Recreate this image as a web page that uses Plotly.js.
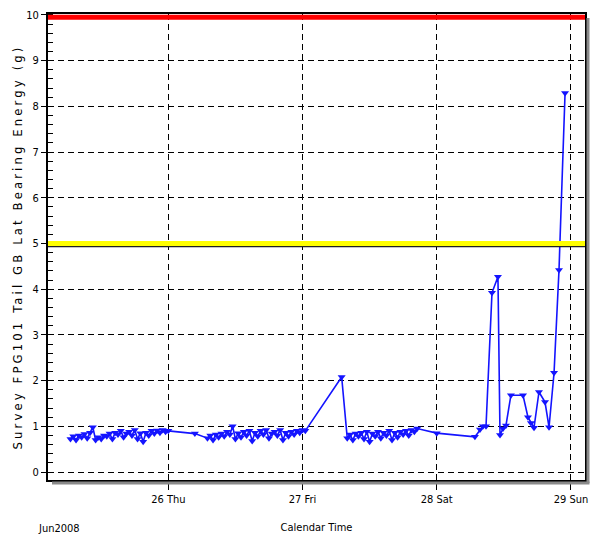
<!DOCTYPE html>
<html>
<head>
<meta charset="utf-8">
<script src="https://cdn.plot.ly/plotly-3.0.1.min.js"></script>
<style>
html,body{margin:0;padding:0;background:#fff;}
#chart{width:590px;height:538px;}
#chart .ytitle{letter-spacing:3.1px;}
</style>
</head>
<body>
<div id="chart"></div>
<script>
// ---- data ----
var times = [
 "2008-06-25 06:30","2008-06-25 07:00","2008-06-25 07:30","2008-06-25 08:00","2008-06-25 08:30","2008-06-25 09:00",
 "2008-06-25 09:30","2008-06-25 10:00","2008-06-25 10:30","2008-06-25 11:00","2008-06-25 11:30","2008-06-25 12:00",
 "2008-06-25 12:30","2008-06-25 13:00","2008-06-25 13:30","2008-06-25 14:00","2008-06-25 14:30","2008-06-25 15:00",
 "2008-06-25 15:30","2008-06-25 16:00","2008-06-25 16:30","2008-06-25 17:00","2008-06-25 17:30","2008-06-25 18:00",
 "2008-06-25 18:30","2008-06-25 19:00","2008-06-25 19:30","2008-06-25 20:00","2008-06-25 20:30","2008-06-25 21:00",
 "2008-06-25 21:30","2008-06-25 22:00","2008-06-25 22:30","2008-06-25 23:00","2008-06-25 23:30","2008-06-26 00:00",
 "2008-06-26 04:45",
 "2008-06-26 07:00","2008-06-26 07:30","2008-06-26 08:00","2008-06-26 08:30","2008-06-26 09:00","2008-06-26 09:30",
 "2008-06-26 10:00","2008-06-26 10:30","2008-06-26 11:00","2008-06-26 11:30","2008-06-26 12:00","2008-06-26 12:30",
 "2008-06-26 13:00","2008-06-26 13:30","2008-06-26 14:00","2008-06-26 14:30","2008-06-26 15:00","2008-06-26 15:30",
 "2008-06-26 16:00","2008-06-26 16:30","2008-06-26 17:00","2008-06-26 17:30","2008-06-26 18:00","2008-06-26 18:30",
 "2008-06-26 19:00","2008-06-26 19:30","2008-06-26 20:00","2008-06-26 20:30","2008-06-26 21:00","2008-06-26 21:30",
 "2008-06-26 22:00","2008-06-26 22:30","2008-06-26 23:00","2008-06-26 23:30","2008-06-27 00:00","2008-06-27 00:30",
 "2008-06-27 07:00",
 "2008-06-27 08:00","2008-06-27 08:30","2008-06-27 09:00","2008-06-27 09:30","2008-06-27 10:00","2008-06-27 10:30",
 "2008-06-27 11:00","2008-06-27 11:30","2008-06-27 12:00","2008-06-27 12:30","2008-06-27 13:00","2008-06-27 13:30",
 "2008-06-27 14:00","2008-06-27 14:30","2008-06-27 15:00","2008-06-27 15:30","2008-06-27 16:00","2008-06-27 16:30",
 "2008-06-27 17:00","2008-06-27 17:30","2008-06-27 18:00","2008-06-27 18:30","2008-06-27 19:00","2008-06-27 19:30",
 "2008-06-27 20:00","2008-06-27 20:30",
 "2008-06-28 00:00",
 "2008-06-28 06:50","2008-06-28 07:44","2008-06-28 08:16","2008-06-28 08:49","2008-06-28 09:53","2008-06-28 10:57",
 "2008-06-28 11:19","2008-06-28 11:51","2008-06-28 12:23","2008-06-28 13:16","2008-06-28 15:26","2008-06-28 16:19",
 "2008-06-28 16:51","2008-06-28 17:24","2008-06-28 18:17","2008-06-28 19:22","2008-06-28 20:05","2008-06-28 20:59",
 "2008-06-28 21:52","2008-06-28 22:57"
];
var energy = [
 0.72,0.78,0.70,0.80,0.76,0.83,
 0.74,0.86,0.98,0.70,0.76,0.72,
 0.80,0.78,0.84,0.72,0.86,0.82,
 0.90,0.76,0.84,0.88,0.80,0.92,
 0.72,0.85,0.66,0.86,0.80,0.90,
 0.84,0.91,0.86,0.92,0.88,0.90,
 0.84,
 0.74,0.80,0.70,0.82,0.76,0.84,
 0.78,0.88,0.82,1.00,0.72,0.85,
 0.76,0.88,0.80,0.90,0.68,0.86,
 0.78,0.90,0.82,0.92,0.74,0.84,
 0.88,0.80,0.92,0.70,0.86,0.78,
 0.88,0.82,0.90,0.86,0.92,0.90,
 2.08,
 0.74,0.82,0.70,0.84,0.78,0.86,
 0.72,0.88,0.66,0.84,0.78,0.88,
 0.74,0.86,0.80,0.90,0.70,0.86,
 0.76,0.88,0.82,0.90,0.80,0.92,
 0.88,0.95,
 0.85,
 0.77,0.93,1.00,1.00,3.92,4.27,
 0.81,0.95,1.02,1.68,1.68,1.20,
 1.07,0.97,1.75,1.53,0.98,2.17,
 4.42,8.29
];
var tickVals = ["2008-06-26","2008-06-27","2008-06-28","2008-06-29"];
var tickText = ["26 Thu","27 Fri","28 Sat","29 Sun"];
var alarmHigh = 10;
var alarmWarn = 5;
var monthLabel = "Jun2008";

var font = "'DejaVu Sans Condensed', 'Liberation Sans Narrow', 'DejaVu Sans', sans-serif";

var trace = {
  x: times, y: energy, type: 'scatter', mode: 'lines+markers',
  line: {color: '#1414ff', width: 1.6},
  marker: {symbol: 'triangle-down', size: 7, color: '#1414ff'},
  hoverinfo: 'x+y'
};

var layout = {
  width: 590, height: 538,
  margin: {l: 48, r: 5, t: 14, b: 58},
  paper_bgcolor: '#fff', plot_bgcolor: '#fff',
  showlegend: false,
  font: {family: font, size: 11, color: '#000'},
  xaxis: {
    type: 'date',
    range: ["2008-06-25 02:29", "2008-06-29 02:31"],
    tickvals: tickVals, ticktext: tickText,
    ticks: 'outside', ticklen: 8, tickwidth: 1, tickcolor: '#000',
    showgrid: true, gridcolor: '#000', gridwidth: 1, griddash: '6px,4px',
    showline: true, linecolor: '#000', linewidth: 2, mirror: true,
    zeroline: false,
    tickfont: {family: font, size: 11},
    title: {text: 'Calendar Time', font: {family: font, size: 11}, standoff: 18}
  },
  yaxis: {
    range: [-0.175, 10.02],
    tickvals: [0,1,2,3,4,5,6,7,8,9,10],
    ticks: 'outside', ticklen: 5, tickwidth: 1, tickcolor: '#000',
    minor: {dtick: 0.2, tick0: 0, ticks: 'inside', ticklen: 5, tickcolor: '#000', showgrid: false},
    showgrid: true, gridcolor: '#000', gridwidth: 1, griddash: '6px,4px',
    showline: true, linecolor: '#000', linewidth: 2, mirror: true,
    zeroline: false,
    tickfont: {family: font, size: 11},
    title: {text: 'Survey FPG101 Tail GB Lat Bearing Energy (g)', font: {family: font, size: 13}, standoff: 1}
  },
  shapes: [
    {type: 'line', xref: 'paper', yref: 'y', x0: 0, x1: 1, y0: alarmHigh - 0.05, y1: alarmHigh - 0.05, line: {color: '#ff0000', width: 5}},
    {type: 'line', xref: 'paper', yref: 'y', x0: 0, x1: 1, y0: alarmWarn - 0.065, y1: alarmWarn - 0.065, line: {color: '#222', width: 1.5}},
    {type: 'line', xref: 'paper', yref: 'y', x0: 0, x1: 1, y0: alarmWarn, y1: alarmWarn, line: {color: '#ffff00', width: 5}},
    {type: 'line', xref: 'paper', yref: 'paper', x0: 1 + 3/537, x1: 1 + 3/537, y0: -3/466, y1: 1 - 4/466, line: {color: '#8a8a8a', width: 3}},
    {type: 'line', xref: 'paper', yref: 'paper', x0: 4/537, x1: 1 + 4.5/537, y0: -3/466, y1: -3/466, line: {color: '#8a8a8a', width: 3}}
  ],
  annotations: [
    {text: monthLabel, xref: 'paper', yref: 'paper', x: -12/537, y: -48/466, xanchor: 'left', yanchor: 'middle', showarrow: false, font: {family: font, size: 11}}
  ]
};

Plotly.newPlot('chart', [trace], layout, {displayModeBar: false, staticPlot: true});
</script>
</body>
</html>
